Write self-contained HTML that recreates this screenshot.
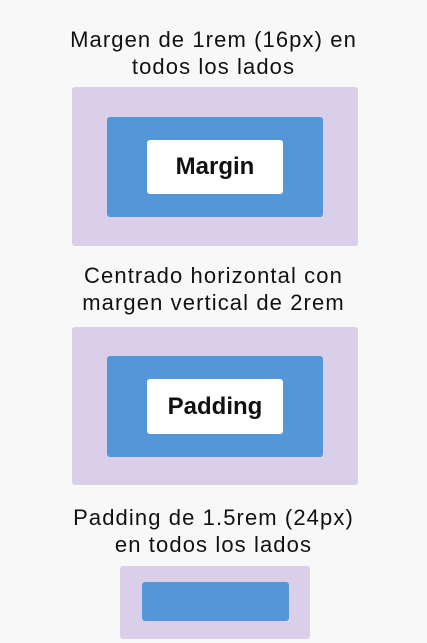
<!DOCTYPE html>
<html><head><style>
body{margin:0;width:427px;height:643px;background:#f8f8f8;position:relative;overflow:hidden;font-family:"Liberation Sans",sans-serif;color:#111}
.t{position:absolute;left:0;width:427px;text-align:center;font-size:22px;line-height:27px;letter-spacing:1.1px}
.b{position:absolute;border-radius:3px}
.l{background:#d9cfe8}.bl{background:#5397d9}.w{background:#fff;font-size:24px;font-weight:bold;display:flex;align-items:center;justify-content:center}
</style></head><body>
<div class="t" style="top:26px">Margen de 1rem (16px) en<br>todos los lados</div>
<div class="b l" style="left:72px;top:87px;width:286px;height:159px"></div>
<div class="b bl" style="left:107px;top:117px;width:216px;height:100px"></div>
<div class="b w" style="left:147px;top:140px;width:136px;height:54px">Margin</div>
<div class="t" style="top:262px">Centrado horizontal con<br>margen vertical de 2rem</div>
<div class="b l" style="left:72px;top:327px;width:286px;height:158px"></div>
<div class="b bl" style="left:107px;top:356px;width:216px;height:101px"></div>
<div class="b w" style="left:147px;top:379px;width:136px;height:55px">Padding</div>
<div class="t" style="top:504px">Padding de 1.5rem (24px)<br>en todos los lados</div>
<div class="b l" style="left:120px;top:566px;width:190px;height:73px"></div>
<div class="b bl" style="left:142px;top:582px;width:147px;height:39px"></div>
</body></html>
